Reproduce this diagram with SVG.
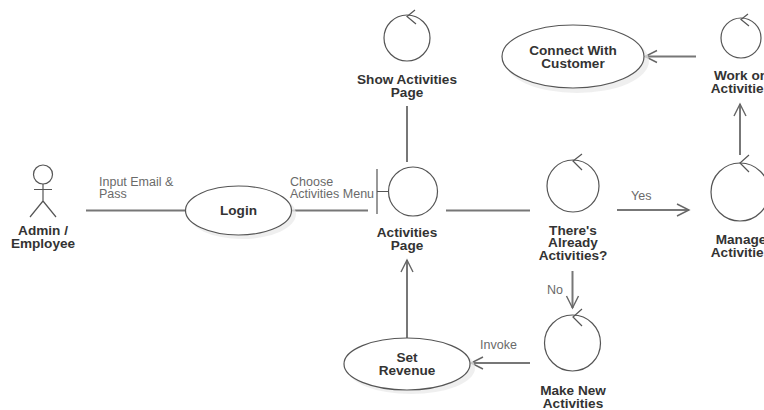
<svg xmlns="http://www.w3.org/2000/svg" width="764" height="410" viewBox="0 0 764 410">
<style>
text{font-family:"Liberation Sans",Arial,sans-serif;font-size:12.500px;fill:#333}
.n{font-weight:bold;text-anchor:middle;font-size:13.600px}
.l{fill:#6a6a6a}
.s{fill:none;stroke:#555;stroke-width:1.200}
.e{fill:#fff;stroke:#555;stroke-width:1.200}
.sh{fill:#e9e9e9;opacity:.75}
.c{fill:none;stroke:#777;stroke-width:2}
.h{fill:none;stroke:#666;stroke-width:1.400}
</style>
<defs>
<marker id="a" markerUnits="userSpaceOnUse" markerWidth="16" markerHeight="16" refX="13" refY="7" orient="auto"><path d="M1 1L13 7L1 13" class="h"/></marker>
</defs>
<rect width="764" height="410" fill="#fff"/>
<g id="connectors">
<path class="c" d="M86 210.500H186"/>
<path class="c" d="M291 210.500H368"/>
<path class="c" d="M446 210.500H530"/>
<path class="c" d="M407 106V162"/>
<path class="c" d="M617 210H689" marker-end="url(#a)"/>
<path class="c" d="M696 56.500H645" marker-end="url(#a)"/>
<path class="c" d="M740 155V104" marker-end="url(#a)"/>
<path class="c" d="M572.500 271V308" marker-end="url(#a)"/>
<path class="c" d="M530 363H471" marker-end="url(#a)"/>
<path class="c" d="M407 338V260" marker-end="url(#a)"/>
<text class="l" x="99" y="186">Input Email &amp;</text>
<text class="l" x="99" y="198">Pass</text>
<text class="l" x="290" y="186">Choose</text>
<text class="l" x="290" y="198">Activities Menu</text>
<text class="l" x="631" y="200">Yes</text>
<text class="l" x="547" y="294">No</text>
<text class="l" x="480" y="349">Invoke</text>
</g>
<g id="admin">
<path class="s" d="M43 184V201M34 189.500H52M43 201L30 217M43 201L56 217"/>
<circle class="s" cx="43" cy="174.500" r="9.500"/>
<text class="n" x="43" y="235">Admin /</text>
<text class="n" x="43" y="248">Employee</text>
</g>
<g id="login">
<ellipse class="sh" cx="242" cy="214" rx="54" ry="25"/>
<ellipse class="e" cx="238.500" cy="210.500" rx="53" ry="24.500"/>
<text class="n" x="238.500" y="215">Login</text>
</g>
<g id="activities-page">
<path class="s" d="M377 169V214M377 191.500H388"/>
<circle class="s" cx="413" cy="191.500" r="24.500"/>
<text class="n" x="407" y="237">Activities</text>
<text class="n" x="407" y="250">Page</text>
</g>
<g id="show-activities">
<circle class="s" cx="407" cy="38" r="23"/>
<path class="s" d="M415 10L407 16.500L416 24"/>
<text class="n" x="407" y="84">Show Activities</text>
<text class="n" x="407" y="97">Page</text>
</g>
<g id="connect">
<ellipse class="sh" cx="577" cy="61" rx="72" ry="32"/>
<ellipse class="e" cx="573" cy="56.500" rx="71" ry="31.500"/>
<text class="n" x="573" y="55">Connect With</text>
<text class="n" x="573" y="68">Customer</text>
</g>
<g id="work">
<circle class="s" cx="741" cy="38" r="20"/>
<path class="s" d="M748 14L741 19.500L749 26"/>
<text class="n" x="741" y="80">Work on</text>
<text class="n" x="741" y="93">Activities</text>
</g>
<g id="already">
<circle class="s" cx="573" cy="186" r="26"/>
<path class="s" d="M582 154L573 161L582 170"/>
<text class="n" x="573" y="235">There's</text>
<text class="n" x="573" y="247">Already</text>
<text class="n" x="573" y="260">Activities?</text>
</g>
<g id="manage">
<circle class="s" cx="740" cy="192" r="29"/>
<path class="s" d="M749 155L740 163L749 172"/>
<text class="n" x="741" y="244">Manage</text>
<text class="n" x="741" y="257">Activities</text>
</g>
<g id="make-new">
<circle class="s" cx="572.500" cy="343" r="28"/>
<path class="s" d="M582 309L573 317L582 326"/>
<text class="n" x="573" y="395">Make New</text>
<text class="n" x="573" y="408">Activities</text>
</g>
<g id="set-revenue">
<ellipse class="sh" cx="411" cy="368" rx="64" ry="26"/>
<ellipse class="e" cx="407" cy="364" rx="63" ry="26"/>
<text class="n" x="407" y="362">Set</text>
<text class="n" x="407" y="375">Revenue</text>
</g>
</svg>
